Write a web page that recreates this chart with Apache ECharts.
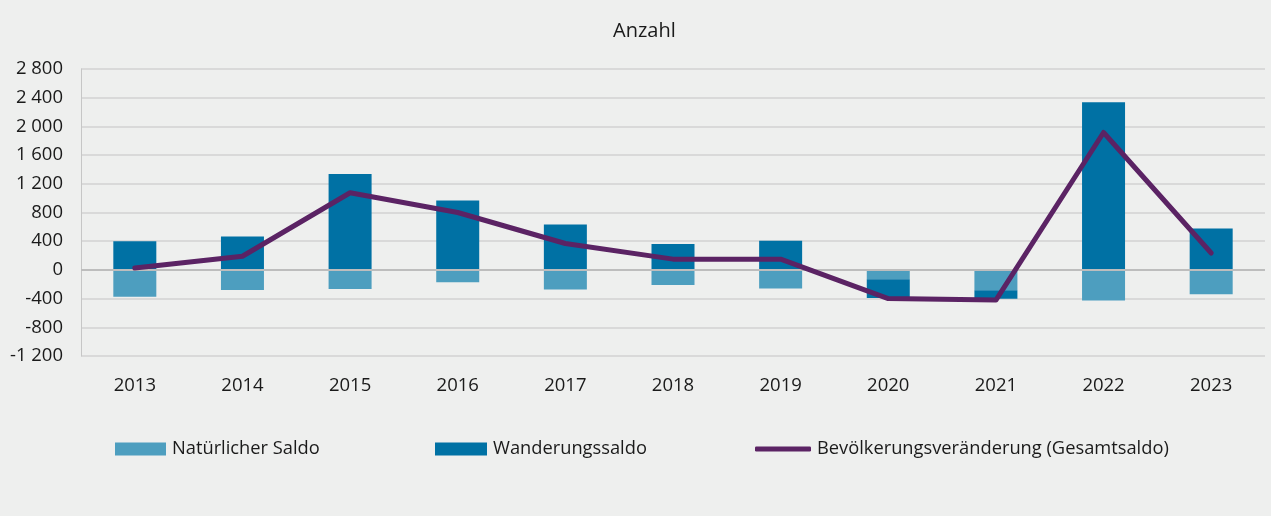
<!DOCTYPE html>
<html><head><meta charset="utf-8">
<script src="https://cdn.jsdelivr.net/npm/echarts@6/dist/echarts.min.js"></script>
<style>html,body{margin:0;padding:0;background:#eeefee;}#c{width:1271px;height:516px;}</style>
</head><body><div id="c"></div>
<script>
const years = ['2013','2014','2015','2016','2017','2018','2019','2020','2021','2022','2023'];
const natuerlicherSaldo = [-375, -280, -265, -172, -272, -212, -258, -130, -285, -427, -339];
const wanderungssaldo = [400, 466, 1335, 968, 633, 362, 405, -262, -118, 2338, 577];
const gesamtsaldo = [25, 190, 1075, 800, 368, 150, 150, -400, -420, 1915, 235];
const seriesNames = ['Natürlicher Saldo', 'Wanderungssaldo', 'Bevölkerungsveränderung (Gesamtsaldo)'];
const FONT = 'Open Sans';
const chart = echarts.init(document.getElementById('c'));
const fmt = v => {
  const s = Math.abs(v).toString();
  const t = s.length > 3 ? s.slice(0, s.length - 3) + ' ' + s.slice(-3) : s;
  return (v < 0 ? '-' : '') + t;
};
const legendBase = {top: 440, padding: 0, itemHeight: 13, itemGap: 6,
  textStyle: {fontFamily: FONT, fontSize: 18.3, color: '#1a1a1a', padding: [0,0,0,1]}};
chart.setOption({
  backgroundColor: '#eeefee',
  animation: false,
  title: {text: 'Anzahl', left: 613, top: 21, padding: 0,
    textStyle: {fontFamily: FONT, fontSize: 20, fontWeight: 'normal', color: '#1a1a1a'}},
  grid: {left: 81, right: 6, top: 69, bottom: 160},
  legend: [
    Object.assign({}, legendBase, {left: 115, itemWidth: 51, data: [{name: seriesNames[0], icon: 'rect'}]}),
    Object.assign({}, legendBase, {left: 435, itemWidth: 52, data: [{name: seriesNames[1], icon: 'rect'}]}),
    Object.assign({}, legendBase, {left: 755, itemWidth: 56, itemHeight: 5, data: [{name: seriesNames[2], icon: 'roundRect'}]})
  ],
  xAxis: {type: 'category', data: years,
    axisLine: {show: false}, axisTick: {show: false},
    axisLabel: {fontFamily: FONT, fontSize: 18.5, color: '#1a1a1a', margin: 20}},
  yAxis: {type: 'value', min: -1200, max: 2800, interval: 400,
    axisLine: {show: true, lineStyle: {color: '#c6c6c6', width: 1}},
    axisTick: {show: false},
    axisLabel: {fontFamily: FONT, fontSize: 18.5, color: '#1a1a1a', margin: 18, formatter: fmt},
    splitLine: {lineStyle: {color: '#d9d9d9', width: 2}}},
  series: [
    {name: seriesNames[0], type: 'bar', stack: 'a', data: natuerlicherSaldo, barWidth: 43,
      itemStyle: {color: '#4d9ebf'}},
    {name: seriesNames[1], type: 'bar', stack: 'a', data: wanderungssaldo, barWidth: 43,
      itemStyle: {color: '#0071a4'},
      markLine: {silent: true, symbol: 'none', label: {show: false},
        lineStyle: {color: '#bdbdbd', width: 2, type: 'solid'}, data: [{yAxis: 0}]}},
    {name: seriesNames[2], type: 'line', data: gesamtsaldo, symbol: 'none', z: 5,
      lineStyle: {color: '#5b2364', width: 5, cap: 'round', join: 'round'},
      itemStyle: {color: '#5b2364'}}
  ]
});
</script></body></html>
